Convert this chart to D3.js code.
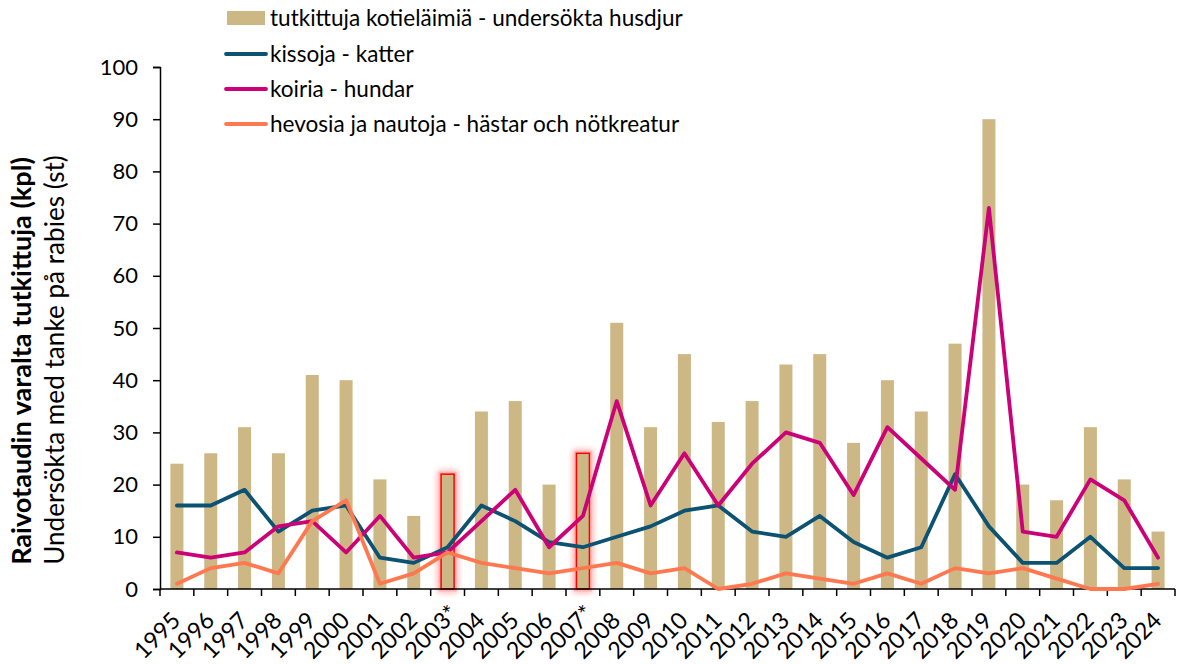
<!DOCTYPE html>
<html><head><meta charset="utf-8">
<script src="https://cdn.jsdelivr.net/npm/d3@7"></script>
<style>body{margin:0;background:#fff}svg{display:block}text{font-family:Lato,"Open Sans",sans-serif;fill:#000}</style>
</head><body><svg id="c" width="1177" height="664"></svg>
<script>
const years = ["1995","1996","1997","1998","1999","2000","2001","2002","2003*","2004","2005","2006","2007*","2008","2009","2010","2011","2012","2013","2014","2015","2016","2017","2018","2019","2020","2021","2022","2023","2024"];
const examined = [24,26,31,26,41,40,21,14,22,34,36,20,26,51,31,45,32,36,43,45,28,40,34,47,90,20,17,31,21,11];
const cats = [16,16,19,11,15,16,6,5,8,16,13,9,8,10,12,15,16,11,10,14,9,6,8,22,12,5,5,10,4,4];
const dogs = [7,6,7,12,13,7,14,6,7,13,19,8,14,36,16,26,16,24,30,28,18,31,25,19,73,11,10,21,17,6];
const horses = [1,4,5,3,13,17,1,3,7,5,4,3,4,5,3,4,0,1,3,2,1,3,1,4,3,4,2,0,0,1];
const highlighted = ["2003*","2007*"];
const yTicks = [0,10,20,30,40,50,60,70,80,90,100];
const legendLabels = ["tutkittuja kotieläimiä - undersökta husdjur","kissoja - katter","koiria - hundar","hevosia ja nautoja - hästar och nötkreatur"];
const yTitle1 = "Raivotaudin varalta tutkittuja (kpl)";
const yTitle2 = "Undersökta med tanke på rabies (st)";

const colors = {bar:"#CDB784", cats:"#0B5273", dogs:"#CC0077", horses:"#FF7850"};
const svg = d3.select("#c");
const L=160, R=1175, T=67, B=589;
const x = d3.scaleBand().domain(years).range([L,R]).paddingInner(0);
const y = d3.scaleLinear().domain([0,100]).range([B,T]);

function fit(sel, target){
  sel.each(function(){
    const fs = parseFloat(this.style.fontSize);
    const w = this.getComputedTextLength();
    if (w>0) this.style.fontSize = (fs*target/w)+"px";
  });
}

const defs = svg.append("defs");
const f = defs.append("filter").attr("id","glow").attr("x","-100%").attr("y","-20%").attr("width","300%").attr("height","140%");
f.append("feGaussianBlur").attr("in","SourceGraphic").attr("stdDeviation",3).attr("result","b");
f.append("feMerge").call(m=>{m.append("feMergeNode").attr("in","b");m.append("feMergeNode").attr("in","b");m.append("feMergeNode").attr("in","SourceGraphic");});

const bw = 13;
svg.append("g").selectAll("rect").data(years.map((d,i)=>({y:d,v:examined[i]})).filter(d=>highlighted.includes(d.y)))
 .join("rect").attr("x",d=>x(d.y)+x.bandwidth()/2-bw/2).attr("y",d=>y(d.v)).attr("width",bw).attr("height",d=>B-y(d.v))
 .attr("fill","none").attr("stroke","#ff3030").attr("stroke-width",5).attr("opacity",0.35).attr("filter","url(#glow)");
svg.append("g").selectAll("rect").data(years.map((d,i)=>({y:d,v:examined[i]})))
 .join("rect").attr("x",d=>x(d.y)+x.bandwidth()/2-bw/2).attr("y",d=>y(d.v)).attr("width",bw).attr("height",d=>B-y(d.v))
 .attr("fill",colors.bar)
 .attr("stroke",d=>highlighted.includes(d.y)?"#FF0000":"none").attr("stroke-width",1.5);

// axes
const yAx = svg.append("g").attr("transform",`translate(${L},0)`).call(d3.axisLeft(y).tickValues(yTicks).tickSize(7).tickPadding(15));
yAx.select(".domain").attr("stroke","#000").attr("stroke-width",1.5);
yAx.selectAll(".tick line").attr("stroke","#000").attr("stroke-width",1.5);
yAx.selectAll("text").style("font-size","22px").style("font-family","Lato,sans-serif").attr("fill","#000");

const xAx = svg.append("g").attr("transform",`translate(0,${B})`);
xAx.append("line").attr("x1",L).attr("x2",R).attr("stroke","#000").attr("stroke-width",1.5);
const bounds = years.map(d=>x(d)).concat([R]);
xAx.selectAll("line.t").data(bounds).join("line").attr("class","t").attr("x1",d=>d).attr("x2",d=>d).attr("y1",0).attr("y2",7).attr("stroke","#000").attr("stroke-width",1.5);
const xl = xAx.selectAll("text").data(years).join("text")
 .attr("transform",d=>d.includes("*")
    ? `translate(${x(d)+x.bandwidth()/2+12},${26}) rotate(-45)`
    : `translate(${x(d)+x.bandwidth()/2+5},${33}) rotate(-45)`)
 .attr("text-anchor","end").style("font-size","20px").text(d=>d);
const base1995 = xl.filter(d=>d==="1995").node();
const scaleX = 54/base1995.getComputedTextLength();
xl.style("font-size",(20*scaleX)+"px");

// lines
const line = d3.line().x((d,i)=>x(years[i])+x.bandwidth()/2).y(d=>y(d));
[["cats",cats],["dogs",dogs],["horses",horses]].forEach(([k,v])=>{
  svg.append("path").datum(v).attr("d",line).attr("fill","none").attr("stroke",colors[k]).attr("stroke-width",3.8).attr("stroke-linejoin","round").attr("stroke-linecap","round");
});

// legend
const lg = svg.append("g");
const ly = [18,54,89,124];
lg.append("rect").attr("x",227).attr("y",11).attr("width",38).attr("height",14).attr("fill",colors.bar);
[colors.cats,colors.dogs,colors.horses].forEach((c,i)=>{
  lg.append("line").attr("x1",226).attr("x2",266).attr("y1",ly[i+1]).attr("y2",ly[i+1]).attr("stroke",c).attr("stroke-width",3.8).attr("stroke-linecap","round");
});
const lt = legendLabels.map((t,i)=>lg.append("text").attr("x",270).attr("y",ly[i]).attr("dy","0.35em").style("font-size","20px").text(t));
fit(lt[0], 413);
lt.forEach(s=>s.style("font-size", lt[0].style("font-size")));

// y titles
const t1 = svg.append("text").attr("transform","translate(31,361) rotate(-90)").attr("text-anchor","middle").style("font-size","22px").style("font-weight","bold").text(yTitle1);
const t2 = svg.append("text").attr("transform","translate(64,360) rotate(-90)").attr("text-anchor","middle").style("font-size","22px").text(yTitle2);
fit(t1, 408); fit(t2, 410);
</script></body></html>
